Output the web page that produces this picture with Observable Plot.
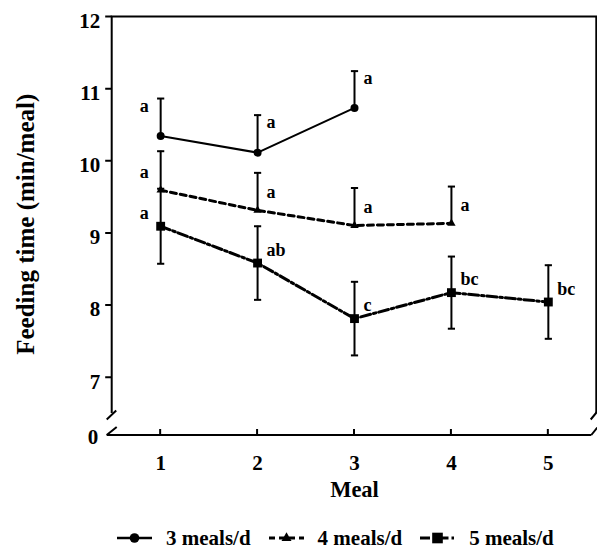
<!DOCTYPE html>
<html>
<head>
<meta charset="utf-8">
<script src="https://cdn.jsdelivr.net/npm/d3@7"></script>
<script src="https://cdn.jsdelivr.net/npm/@observablehq/plot@0.6"></script>
<style>
  body { margin: 0; background: #fff; font-family: "Liberation Serif", "Times New Roman", serif; font-weight: bold; }
  #chart svg { display: block; }
  .legend { display: flex; align-items: center; height: 24px; margin: 21px 0 0 117px; font-size: 21px; color: #000; }
  .legend .item { display: flex; align-items: center; margin-right: 18px; white-space: nowrap; }
  .legend svg { margin-right: 14px; display: block; }
</style>
</head>
<body>
<div id="chart"></div>
<div class="legend" id="legend"></div>
<script>
// Meal number within the day
const meals = [1, 2, 3, 4, 5];
const yTicks = [7, 8, 9, 10, 11, 12];
const yBreakLabel = "0";

// Feeding time (min/meal), mean and SE, with significance letters
const threeMealsName = "3 meals/d";
const threeMeals = [10.35, 10.12, 10.74];
const threeSE = [0.52, 0.52, 0.51];
const threeLetters = ["a", "a", "a"];

const fourMealsName = "4 meals/d";
const fourMeals = [9.60, 9.32, 9.11, 9.14];
const fourSE = [0.54, 0.52, 0.52, 0.51];
const fourLetters = ["a", "a", "a", "a"];

const fiveMealsName = "5 meals/d";
const fiveMeals = [9.10, 8.59, 7.82, 8.18, 8.05];
const fiveSE = [0.52, 0.51, 0.51, 0.50, 0.51];
const fiveLetters = ["a", "ab", "c", "bc", "bc"];

// Drawing style of each series
const series = [
  {name: threeMealsName, means: threeMeals, se: threeSE, letters: threeLetters,
   symbol: "circle", r: 4, dash: null, width: 2, bars: "up", letterDy: -30},
  {name: fourMealsName, means: fourMeals, se: fourSE, letters: fourLetters,
   symbol: "triangle", r: 3.1, dash: "6,4", width: 3, bars: "up", letterDy: -18},
  {name: fiveMealsName, means: fiveMeals, se: fiveSE, letters: fiveLetters,
   symbol: "square", r: 5, dash: "10,3,2.5,3", width: 3, bars: "both", letterDy: -13}
];

const rows = series.map(s => s.means.map((m, i) => ({
  series: s.name, meal: meals[i], mean: m, se: s.se[i], letter: s.letters[i],
  lo: s.bars === "both" ? m - s.se[i] : m, hi: m + s.se[i]
})));

const caps = series.flatMap((s, k) => rows[k].flatMap(d =>
  s.bars === "both" ? [{meal: d.meal, y: d.hi}, {meal: d.meal, y: d.lo}] : [{meal: d.meal, y: d.hi}]
));

// horizontal cap for the error bars
const capSymbol = {
  draw(context, size) {
    const r = Math.sqrt(size / Math.PI);
    context.moveTo(-r, 0);
    context.lineTo(r, 0);
  }
};

const width = 597, height = 505;
const marginTop = 16.5, marginBottom = 70, marginLeft = 111.7, marginRight = 0.7;
const yMin = 6.2, yMax = 12;
const font = "'Liberation Serif', 'Times New Roman', serif";

// Box frame with broken-axis marks at the two lower corners,
// outward y ticks and inward x ticks
function brokenFrame(index, scales, values, dims) {
  const l = dims.marginLeft, t = dims.marginTop;
  const r = dims.width - dims.marginRight, b = dims.height - dims.marginBottom;
  const gap = 22;
  const g = d3.create("svg:g")
    .attr("fill", "none").attr("stroke", "black").attr("stroke-width", 2);
  g.append("path").attr("d", `M${l},${b - gap}V${t}H${r}V${b - gap}`);
  g.append("path").attr("d", `M${l - 5},${b}H${r - 5}`);
  g.append("path").attr("d",
    `M${l - 5},${b - 15.5}L${l + 4.5},${b - 24.5}` +
    `M${l - 5},${b}L${l + 5},${b - 8}` +
    `M${r - 5.6},${b - 15.5}L${r + 1},${b - 23.5}` +
    `M${r - 5},${b}L${r + 1},${b - 7.5}`);
  g.append("path").attr("d",
    yTicks.map(v => `M${l - 6.5},${scales.y(v)}H${l}`).join("") +
    meals.map(v => `M${scales.x(v)},${b}V${b - 6}`).join(""));
  return g.node();
}

const marks = [
  brokenFrame,
  // y axis labels
  Plot.axisY({ticks: yTicks, tickSize: 0, tickPadding: 12, dy: 4, fontSize: 21, label: null, tickFormat: d => String(d)}),
  Plot.axisY({ticks: [yMin], tickSize: 0, tickPadding: 14, dy: 2, fontSize: 21, label: null, tickFormat: () => yBreakLabel}),
  // x axis labels
  Plot.axisX({ticks: meals, tickSize: 0, tickPadding: 20, fontSize: 21, label: null, tickFormat: d => String(d)}),
  Plot.text(["Meal"], {frameAnchor: "bottom", text: d => d, textAnchor: "middle", lineAnchor: "middle", dy: 54, fontSize: 22.5}),
  Plot.text(["Feeding time (min/meal)"], {frameAnchor: "left", text: d => d, textAnchor: "middle", lineAnchor: "middle", rotate: -90, dx: -86, dy: -2, fontSize: 25})
];

series.forEach((s, k) => {
  const data = rows[k];
  marks.push(Plot.ruleX(data, {x: "meal", y1: "lo", y2: "hi", stroke: "black", strokeWidth: 2}));
});
series.forEach((s, k) => {
  const data = rows[k];
  marks.push(Plot.line(data, {x: "meal", y: "mean", stroke: "black", strokeWidth: s.width, strokeDasharray: s.dash}));
  marks.push(Plot.dot(data, {x: "meal", y: "mean", symbol: s.symbol, r: s.r, fill: "black", stroke: "none"}));
  marks.push(Plot.text(data.filter(d => d.meal === 1), {x: "meal", y: "mean", text: "letter", textAnchor: "end", dx: -12, dy: s.letterDy, fontSize: 18}));
  marks.push(Plot.text(data.filter(d => d.meal !== 1), {x: "meal", y: "mean", text: "letter", textAnchor: "start", dx: 9, dy: s.letterDy, fontSize: 18}));
});
marks.push(Plot.dot(caps, {x: "meal", y: "y", symbol: capSymbol, r: 3.6, stroke: "black", strokeWidth: 2, fill: "none"}));

const chart = Plot.plot({
  width, height, marginTop, marginBottom, marginLeft, marginRight,
  style: {fontFamily: font, fontWeight: "bold", color: "black", background: "white", overflow: "visible"},
  x: {domain: [0.5, 5.5], label: null},
  y: {domain: [yMin, yMax], label: null},
  marks
});
document.getElementById("chart").append(chart);

// Legend row under the chart
const legend = d3.select("#legend");
series.forEach(s => {
  const item = legend.append("div").attr("class", "item");
  const sw = item.append("svg").attr("width", 35).attr("height", 14);
  sw.append("line").attr("x1", 0).attr("x2", 35).attr("y1", 7).attr("y2", 7)
    .attr("stroke", "black").attr("stroke-width", Math.max(s.width, 2.6))
    .attr("stroke-dasharray", s.dash);
  const sym = {circle: d3.symbolCircle, triangle: d3.symbolTriangle, square: d3.symbolSquare}[s.symbol];
  const rr = s.r * 1.2;
  sw.append("path").attr("transform", "translate(17.5,7)")
    .attr("d", d3.symbol(sym, Math.PI * rr * rr)()).attr("fill", "black");
  item.append("span").text(s.name);
});
</script>
</body>
</html>
